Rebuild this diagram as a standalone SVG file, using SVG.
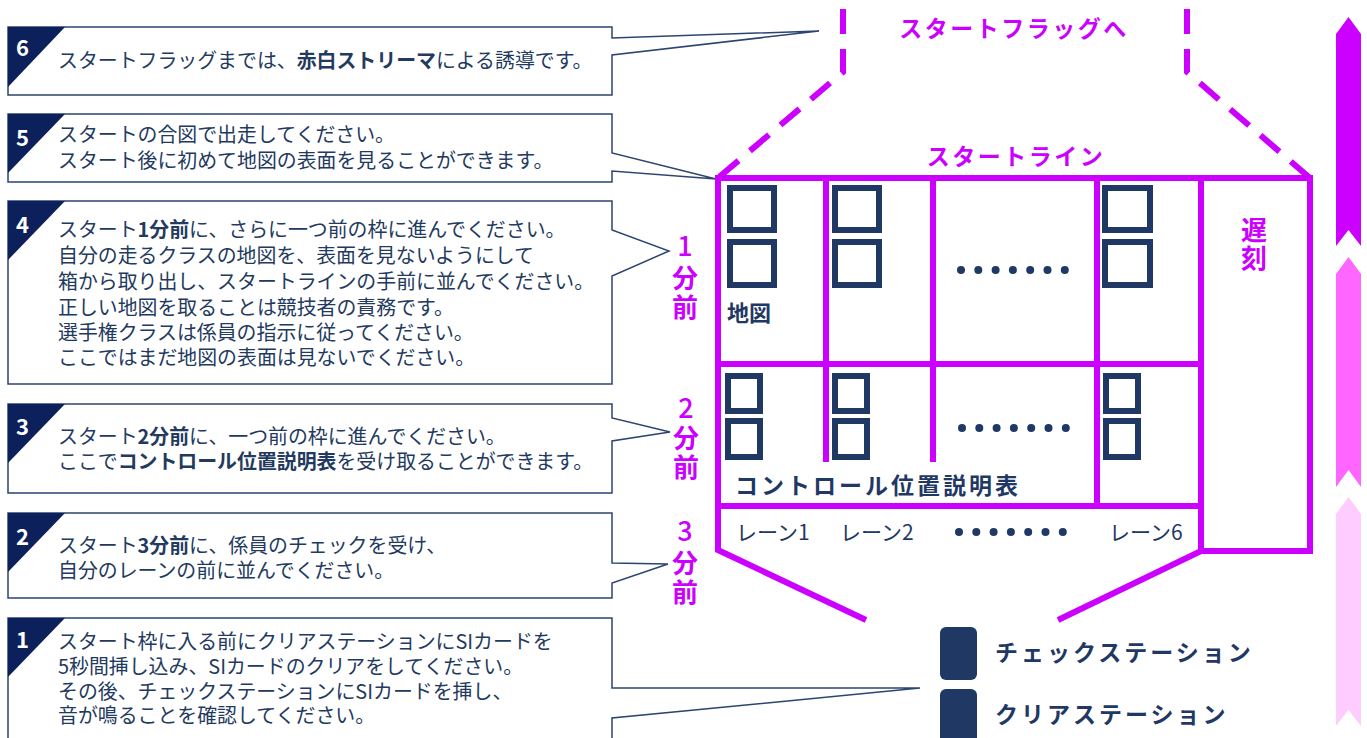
<svg xmlns="http://www.w3.org/2000/svg" width="1367" height="738" viewBox="0 0 1367 738">
<style>
.box{fill:#fff;stroke:#2C4470;stroke-width:1.5;stroke-linejoin:miter}
.tri{fill:#0C215C}
.num{font-family:"Noto Sans CJK JP","Liberation Sans",sans-serif;font-weight:bold;font-size:22px;fill:#fff}
.txt{font-family:"Noto Sans CJK JP","Noto Sans",sans-serif;font-size:19.9px;fill:#233A60}
.b{font-weight:bold}
.mg{fill:none;stroke:#CC00FF;stroke-width:6}
.dash{fill:none;stroke:#CC00FF;stroke-width:6;stroke-dasharray:25 15}
.mtxt{font-family:"Noto Sans CJK JP",sans-serif;font-weight:bold;fill:#CC00FF}
.mdig{font-family:"Noto Sans CJK JP",sans-serif;font-weight:500;fill:#CC00FF}
.sq{fill:none;stroke:#1F3864;stroke-width:6}
.ntxt{font-family:"Noto Sans CJK JP",sans-serif;fill:#1F3864}
.dot{fill:#1F3864}
.st{fill:#1F3864}
</style>
<defs>
<g id="dots7">
<circle cx="0" cy="0" r="4"/><circle cx="17.3" cy="0" r="4"/><circle cx="34.6" cy="0" r="4"/><circle cx="51.9" cy="0" r="4"/><circle cx="69.2" cy="0" r="4"/><circle cx="86.5" cy="0" r="4"/><circle cx="103.8" cy="0" r="4"/>
</g>
</defs>
<rect width="1367" height="738" fill="#fff"/>

<g id="connectors">
<path class="dash" d="M843,9 V72 L718,178"/>
<path class="dash" d="M1187,9 V72 L1310,178"/>
</g>

<g id="callout6">
<path class="box" d="M8,27 H612 V38 L819,31 L612,55 V95 H8 Z"/>
<polygon class="tri" points="8,27 65,27 8,87"/>
<text class="num" x="16" y="56">6</text>
<text class="txt" x="58" y="68">スタートフラッグまでは、<tspan class="b">赤白ストリーマ</tspan>による誘導です。</text>
</g>

<g id="callout5">
<path class="box" d="M8,114 H612 V153 L716,179 L612,171 V182 H8 Z"/>
<polygon class="tri" points="8,114 65,114 8,173"/>
<text class="num" x="16" y="146">5</text>
<text class="txt" x="58" y="142">スタートの合図で出走してください。</text>
<text class="txt" x="58" y="168">スタート後に初めて地図の表面を見ることができます。</text>
</g>

<g id="callout4">
<path class="box" d="M8,201 H612 V230 L669,251 L612,276 V384 H8 Z"/>
<polygon class="tri" points="8,201 65,201 8,260"/>
<text class="num" x="16" y="233">4</text>
<text class="txt" x="58" y="237">スタート<tspan class="b">1分前</tspan>に、さらに一つ前の枠に進んでください。</text>
<text class="txt" x="58" y="263">自分の走るクラスの地図を、表面を見ないようにして</text>
<text class="txt" x="58" y="289">箱から取り出し、スタートラインの手前に並んでください。</text>
<text class="txt" x="58" y="315">正しい地図を取ることは競技者の責務です。</text>
<text class="txt" x="58" y="340">選手権クラスは係員の指示に従ってください。</text>
<text class="txt" x="58" y="365">ここではまだ地図の表面は見ないでください。</text>
</g>

<g id="callout3">
<path class="box" d="M8,404 H612 V418 L670,432 L612,441 V493 H8 Z"/>
<polygon class="tri" points="8,404 65,404 8,463"/>
<text class="num" x="16" y="435">3</text>
<text class="txt" x="58" y="444">スタート<tspan class="b">2分前</tspan>に、一つ前の枠に進んでください。</text>
<text class="txt" x="58" y="469">ここで<tspan class="b">コントロール位置説明表</tspan>を受け取ることができます。</text>
</g>

<g id="callout2">
<path class="box" d="M8,513 H612 V563 L668,564 L612,583 V598 H8 Z"/>
<polygon class="tri" points="8,513 65,513 8,572"/>
<text class="num" x="16" y="545">2</text>
<text class="txt" x="58" y="553">スタート<tspan class="b">3分前</tspan>に、係員のチェックを受け、</text>
<text class="txt" x="58" y="578">自分のレーンの前に並んでください。</text>
</g>

<g id="callout1">
<path class="box" d="M8,618 H612 V688 L920,688 L612,718 V746 H8 Z"/>
<polygon class="tri" points="8,618 65,618 8,677"/>
<text class="num" x="16" y="648">1</text>
<text class="txt" x="58" y="649">スタート枠に入る前にクリアステーションにSIカードを</text>
<text class="txt" x="58" y="674">5秒間挿し込み、SIカードのクリアをしてください。</text>
<text class="txt" x="58" y="699">その後、チェックステーションにSIカードを挿し、</text>
<text class="txt" x="58" y="723">音が鳴ることを確認してください。</text>
</g>

<g id="flag-label">
<text class="mtxt" x="1014" y="37" font-size="23" letter-spacing="2.5" text-anchor="middle">スタートフラッグへ</text>
</g>
<g id="startline-label">
<text class="mtxt" x="1016" y="165" font-size="23" letter-spacing="2.5" text-anchor="middle">スタートライン</text>
</g>

<g id="start-grid">
<path class="mg" d="M866,620 L718,550 V178 H1310 V551 H1201 L1058,620"/>
<path class="mg" d="M1201,178 V551 M718,364 H1201 M718,506 H1201 M826,178 V462 M933,178 V462 M1097,178 V506"/>
</g>

<g id="maps-row">
<rect class="sq" x="730" y="188" width="44" height="42"/>
<rect class="sq" x="730" y="242" width="44" height="43"/>
<rect class="sq" x="835" y="188" width="44" height="42"/>
<rect class="sq" x="835" y="242" width="44" height="43"/>
<rect class="sq" x="1105" y="188" width="45" height="42"/>
<rect class="sq" x="1105" y="242" width="45" height="43"/>
<use href="#dots7" class="dot" x="961" y="270"/>
<text class="ntxt" x="727" y="321" font-size="22" font-weight="bold">地図</text>
</g>

<g id="description-row">
<rect class="sq" x="728" y="376" width="32" height="35"/>
<rect class="sq" x="728" y="421" width="32" height="36"/>
<rect class="sq" x="835" y="376" width="32" height="35"/>
<rect class="sq" x="835" y="421" width="32" height="36"/>
<rect class="sq" x="1106" y="376" width="32" height="35"/>
<rect class="sq" x="1106" y="421" width="32" height="36"/>
<use href="#dots7" class="dot" x="962" y="428"/>
<text class="ntxt" x="735" y="494" font-size="23" font-weight="bold" letter-spacing="3">コントロール位置説明表</text>
</g>

<g id="lanes-row">
<text class="ntxt" x="736" y="540" font-size="21">レーン1</text>
<text class="ntxt" x="840" y="540" font-size="21">レーン2</text>
<text class="ntxt" x="1109" y="540" font-size="21">レーン6</text>
<use href="#dots7" class="dot" x="959" y="532"/>
</g>

<g id="late-label">
<text class="mtxt" x="1254" y="240" font-size="26" text-anchor="middle">遅</text>
<text class="mtxt" x="1254" y="268" font-size="26" text-anchor="middle">刻</text>
</g>

<g id="time-1min">
<text class="mdig" x="685" y="256" font-size="27" text-anchor="middle">1</text>
<text class="mtxt" x="685" y="288" font-size="26" text-anchor="middle">分</text>
<text class="mtxt" x="685" y="317" font-size="26" text-anchor="middle">前</text>
</g>
<g id="time-2min">
<text class="mdig" x="686" y="418" font-size="27" text-anchor="middle">2</text>
<text class="mtxt" x="686" y="448" font-size="26" text-anchor="middle">分</text>
<text class="mtxt" x="686" y="477" font-size="26" text-anchor="middle">前</text>
</g>
<g id="time-3min">
<text class="mdig" x="685" y="541" font-size="27" text-anchor="middle">3</text>
<text class="mtxt" x="685" y="573" font-size="26" text-anchor="middle">分</text>
<text class="mtxt" x="685" y="602" font-size="26" text-anchor="middle">前</text>
</g>

<g id="check-station">
<rect class="st" x="940" y="627" width="37" height="53" rx="6"/>
<text class="ntxt" x="995" y="661" font-size="23" font-weight="bold" letter-spacing="3">チェックステーション</text>
</g>
<g id="clear-station">
<rect class="st" x="940" y="689" width="37" height="60" rx="6"/>
<text class="ntxt" x="995" y="723" font-size="23" font-weight="bold" letter-spacing="3">クリアステーション</text>
</g>

<g id="progress-arrows">
<path fill="#CC00FF" d="M1336,34 L1348.5,17 L1361,34 V246 L1348.5,230 L1336,246 Z"/>
<path fill="#FF66FF" d="M1336,274 L1348.5,257 L1361,274 V487 L1348.5,470 L1336,487 Z"/>
<path fill="#FFCCFF" d="M1336,514 L1348.5,497 L1361,514 V726 L1348.5,710 L1336,726 Z"/>
</g>
</svg>
